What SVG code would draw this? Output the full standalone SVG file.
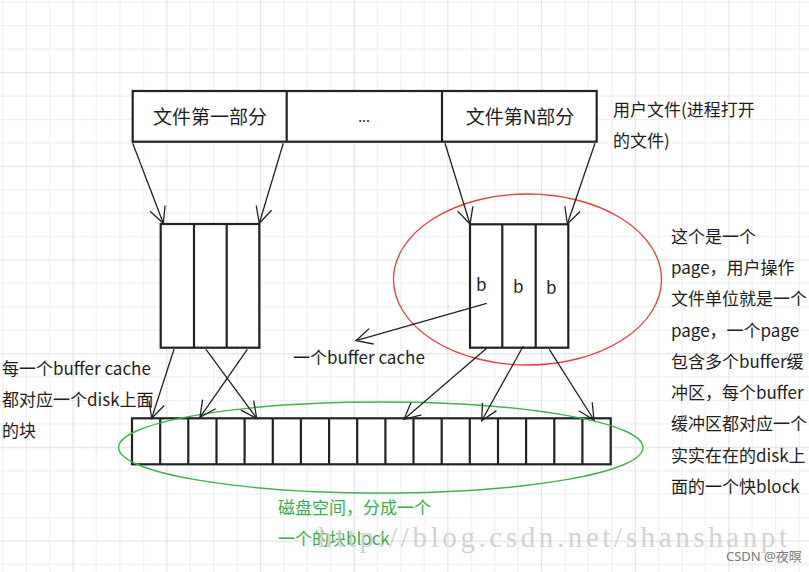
<svg xmlns="http://www.w3.org/2000/svg" width="809" height="572" viewBox="0 0 809 572">
  <defs>
    <pattern id="grid" patternUnits="userSpaceOnUse" x="-21.12" y="-21.62" width="93.68" height="93.68">
      <rect x="0" y="0" width="93.68" height="93.68" fill="#ffffff"/>
      <g fill="#eeeeee">
        <rect x="23.42" y="0" width="1.1" height="93.68"/>
        <rect x="46.84" y="0" width="1.1" height="93.68"/>
        <rect x="70.26" y="0" width="1.1" height="93.68"/>
        <rect x="0" y="23.42" width="93.68" height="1.1"/>
        <rect x="0" y="46.84" width="93.68" height="1.1"/>
        <rect x="0" y="70.26" width="93.68" height="1.1"/>
      </g>
      <g fill="#e3e3e3">
        <rect x="0" y="0" width="1.2" height="93.68"/>
        <rect x="0" y="0" width="93.68" height="1.2"/>
      </g>
    </pattern>
    <marker id="arr" viewBox="-18 -10 20 20" refX="0" refY="0" markerWidth="20" markerHeight="20" markerUnits="userSpaceOnUse" orient="auto">
      <path d="M-16,-8 L0,0 L-16,8" fill="none" stroke="#222" stroke-width="1.3"/>
    </marker>
  </defs>
  <style>
    .box { fill: #ffffff; stroke: #222; stroke-width: 2.2; }
    .div { stroke: #222; stroke-width: 2.2; fill: none; }
    .t { font-family: "Microsoft YaHei", "Noto Sans CJK SC", "Noto Sans", sans-serif; fill: #1e1e1e; }
    .t17 { font-size: 17px; }
    .t19 { font-size: 19px; }
    .green { fill: #34b04a; }
    .conn { stroke: #222; stroke-width: 1.3; fill: none; marker-end: url(#arr); }
    .wm { font-family: "Liberation Serif", "DejaVu Serif", serif; font-size: 29px; fill: #cccccc; opacity: 0.85; }
  </style>

  <rect x="0" y="0" width="809" height="572" fill="url(#grid)"/>

  <g id="file-bar">
    <rect class="box" x="132.7" y="91" width="464" height="50.7"/>
    <line class="div" x1="286.7" y1="91" x2="286.7" y2="141.7"/>
    <line class="div" x1="442" y1="91" x2="442" y2="141.7"/>
    <text class="t t19" x="210" y="123.5" text-anchor="middle">文件第一部分</text>
    <text class="t" x="364" y="122" text-anchor="middle" font-size="14" fill="#555">...</text>
    <text class="t t19" x="520" y="123.5" text-anchor="middle">文件第N部分</text>
  </g>

  <g id="file-bar-note">
    <text class="t t17" x="613" y="116">用户文件(进程打开</text>
    <text class="t t17" x="613" y="147">的文件)</text>
  </g>

  <g id="page-left">
    <rect class="box" x="160.7" y="224" width="98.6" height="123.7"/>
    <line class="div" x1="194" y1="224" x2="194" y2="347.7"/>
    <line class="div" x1="226.7" y1="224" x2="226.7" y2="347.7"/>
  </g>

  <g id="page-right">
    <rect class="box" x="470" y="224.3" width="98.3" height="123.4"/>
    <line class="div" x1="502.3" y1="224.3" x2="502.3" y2="347.7"/>
    <line class="div" x1="535.7" y1="224.3" x2="535.7" y2="347.7"/>
    <text class="t t17" x="476" y="291">b</text>
    <text class="t t17" x="513" y="293">b</text>
    <text class="t t17" x="546" y="294">b</text>
  </g>

  <g id="page-highlight">
    <ellipse cx="527.5" cy="279.5" rx="134" ry="85.5" fill="none" stroke="#ee3b3b" stroke-width="1.3"/>
  </g>

  <g id="page-note">
    <text class="t t17" x="671" y="243">这个是一个</text>
    <text class="t t17" x="671" y="274">page，用户操作</text>
    <text class="t t17" x="671" y="305">文件单位就是一个</text>
    <text class="t t17" x="671" y="337">page，一个page</text>
    <text class="t t17" x="671" y="368">包含多个buffer缓</text>
    <text class="t t17" x="671" y="399">冲区，每个buffer</text>
    <text class="t t17" x="671" y="430">缓冲区都对应一个</text>
    <text class="t t17" x="671" y="462">实实在在的disk上</text>
    <text class="t t17" x="671" y="493">面的一个快block</text>
  </g>

  <g id="buffer-note">
    <text class="t t17" x="2" y="375">每一个buffer cache</text>
    <text class="t t17" x="2" y="406">都对应一个disk上面</text>
    <text class="t t17" x="2" y="437">的块</text>
  </g>

  <g id="buffer-cache-label">
    <text class="t t17" x="293" y="364">一个buffer cache</text>
  </g>

  <g id="disk">
    <rect class="box" x="132" y="418.3" width="478.7" height="46"/>
    <path class="div" d="M160.2,418.3V464.3 M188.3,418.3V464.3 M216.5,418.3V464.3 M244.6,418.3V464.3 M272.8,418.3V464.3 M300.9,418.3V464.3 M329.1,418.3V464.3 M357.2,418.3V464.3 M385.4,418.3V464.3 M413.5,418.3V464.3 M441.7,418.3V464.3 M469.8,418.3V464.3 M498,418.3V464.3 M526.1,418.3V464.3 M554.3,418.3V464.3 M582.4,418.3V464.3"/>
  </g>

  <g id="disk-highlight">
    <ellipse cx="380.8" cy="447.5" rx="262.2" ry="45.5" fill="none" stroke="#3cb54e" stroke-width="1.4"/>
  </g>

  <g id="disk-note">
    <text class="t t17 green" x="278" y="514">磁盘空间，分成一个</text>
    <text class="t t17 green" x="278" y="545">一个的块block</text>
  </g>

  <g id="connectors">
    <line class="conn" x1="132.7" y1="143.3" x2="163.3" y2="223.3"/>
    <line class="conn" x1="283.3" y1="143.3" x2="259.3" y2="223.3"/>
    <line class="conn" x1="445" y1="143.3" x2="470" y2="224"/>
    <line class="conn" x1="595" y1="143.3" x2="567.3" y2="224"/>
    <line class="conn" x1="174" y1="349.3" x2="151.7" y2="418.3"/>
    <line class="conn" x1="206" y1="349.3" x2="256.7" y2="418.3"/>
    <line class="conn" x1="247.3" y1="349.3" x2="200" y2="417.3"/>
    <line class="conn" x1="486.7" y1="348.3" x2="404" y2="419.3"/>
    <line class="conn" x1="523.3" y1="346" x2="481.7" y2="420.7"/>
    <line class="conn" x1="549.3" y1="349.3" x2="594" y2="420"/>
    <line class="conn" x1="486.7" y1="303.3" x2="356" y2="340.7"/>
  </g>

  <g id="watermark">
    <text class="wm" x="318" y="547" textLength="469" lengthAdjust="spacing">http://blog.csdn.net/shanshanpt</text>
    <text x="726" y="561" font-family="'Noto Sans', 'Noto Sans CJK SC', sans-serif" font-size="13" fill="#7a7a7a">CSDN @夜暝</text>
  </g>
</svg>
